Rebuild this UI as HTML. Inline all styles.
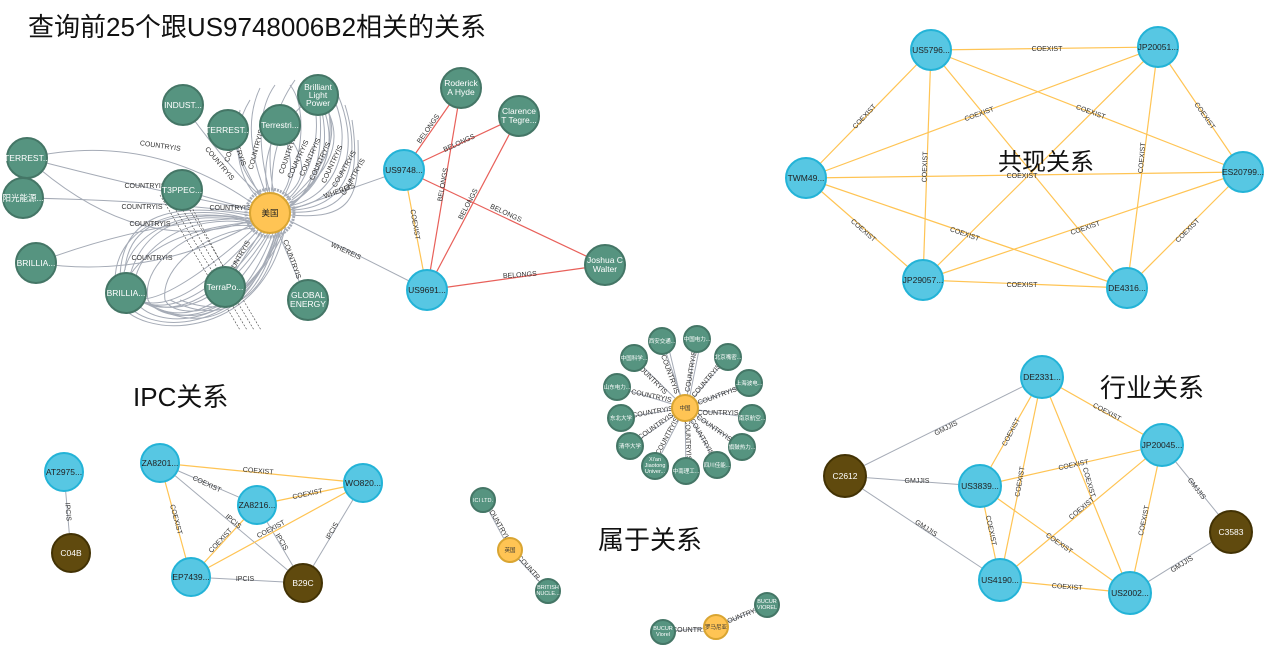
<!DOCTYPE html>
<html><head><meta charset="utf-8"><style>
html,body{margin:0;padding:0;background:#fff;}
svg{display:block;font-family:"Liberation Sans","Noto Sans CJK SC",sans-serif;}
.b{fill:#57C7E3;stroke:#23B3D7;stroke-width:2}
.g{fill:#569480;stroke:#447666;stroke-width:2}
.y{fill:#FFC454;stroke:#D9A532;stroke-width:2}
.k{fill:#604A0E;stroke:#423204;stroke-width:2}
.eo{stroke:#FFC454;stroke-width:1.2;fill:none}
.eg{stroke:#A5ABB6;stroke-width:1;fill:none}
.er{stroke:#E8605A;stroke-width:1.2;fill:none}
.l{font-size:7px;fill:#333;text-anchor:middle}
.nt{font-size:8.5px;fill:#222;text-anchor:middle}
.nw{font-size:8.5px;fill:#fff;text-anchor:middle}
.s{font-size:5.5px;fill:#fff;text-anchor:middle}
.h{font-size:26px;fill:#111}
</style></head><body>
<svg width="1274" height="649" viewBox="0 0 1274 649">
<text class="h" x="28" y="36">查询前25个跟US9748006B2相关的关系</text>
<text class="h" x="133" y="406">IPC关系</text>
<text class="h" x="598" y="549">属于关系</text>
<text class="h" x="1100" y="397">行业关系</text>

<!-- top-left cluster edges -->
<g class="eg">
<path d="M183,105 Q230,170 265,200"/><path d="M228,130 Q250,180 262,198"/>
<path d="M27,158 Q150,130 255,205"/><path d="M27,158 Q150,190 252,210"/>
<path d="M23,198 Q150,200 250,213"/><path d="M27,158 Q140,260 252,220"/>
<path d="M36,263 Q150,220 252,218"/><path d="M36,263 Q150,280 253,224"/>
<path d="M182,190 L252,210"/><path d="M308,302 L278,232"/>
<path d="M404,170 L290,210"/><path d="M427,290 L288,220"/>
<path d="M225,287 L262,230"/>
</g>
<g class="eg" stroke-width="0.8">
<path d="M318,95 Q350,160 290,205"/><path d="M318,95 Q340,170 288,208"/><path d="M318,95 Q330,180 286,210"/>
<path d="M318,95 Q360,150 292,200"/><path d="M318,95 Q355,140 292,198"/><path d="M318,95 Q270,120 272,193"/>
<path d="M280,125 Q300,170 282,194"/><path d="M280,125 Q260,160 268,193"/><path d="M280,125 Q320,170 286,196"/>
<path d="M250,100 Q220,150 262,195"/><path d="M260,88 Q240,130 266,194"/><path d="M275,85 Q250,120 270,193"/>
<path d="M240,110 Q230,170 258,198"/><path d="M295,80 Q260,130 274,193"/>
<path d="M288,206 C330,200 360,150 330,90"/><path d="M289,208 C335,205 365,160 338,95"/>
<path d="M290,210 C340,210 365,170 345,105"/><path d="M290,212 C345,215 362,185 352,120"/>
<path d="M289,215 C350,220 360,200 358,140"/><path d="M286,204 C320,195 345,140 320,80"/>
<path d="M284,202 C310,185 330,120 305,82"/><path d="M282,200 C300,170 310,110 290,85"/>
<path d="M126,293 Q140,200 252,222"/><path d="M126,293 Q150,320 255,228"/><path d="M126,293 Q170,330 258,230"/>
<path d="M126,293 Q180,335 262,232"/><path d="M126,293 Q190,340 265,232"/><path d="M126,293 Q200,340 268,233"/>
<path d="M120,280 Q120,190 252,216"/><path d="M125,270 Q130,200 252,219"/><path d="M130,275 Q160,230 254,222"/>
<path d="M140,300 Q210,345 270,233"/><path d="M150,305 Q230,345 273,233"/><path d="M160,310 Q240,345 276,232"/>
<path d="M170,300 Q250,340 278,230"/><path d="M180,300 Q260,330 280,229"/>
<path d="M253,222 C180,200 110,240 125,300 C140,335 250,340 276,232"/>
<path d="M253,224 C190,210 125,250 135,300 C150,330 245,335 279,231"/>
<path d="M254,226 C200,220 140,260 148,300 C160,325 240,330 282,230"/>
<path d="M252,220 C170,195 100,235 118,300 C135,340 260,345 285,228"/>
<path d="M255,228 C210,230 160,265 165,300 C175,320 245,322 286,227"/>
</g>
<g class="l" font-size="6.5">
<text x="160" y="148" transform="rotate(8 160 148)">COUNTRYIS</text>
<text x="145" y="188">COUNTRYIS</text>
<text x="142" y="209">COUNTRYIS</text>
<text x="150" y="226">COUNTRYIS</text>
<text x="152" y="260">COUNTRYIS</text>
<text x="218" y="165" transform="rotate(50 218 165)">COUNTRYIS</text>
<text x="235" y="147" transform="rotate(70 235 147)">COUNTRYIS</text>
<text x="235" y="143" transform="rotate(-72 235 143)">COUNTRYIS</text>
<text x="258" y="150" transform="rotate(-75 258 150)">COUNTRYIS</text>
<text x="290" y="155" transform="rotate(-70 290 155)">COUNTRYIS</text>
<text x="300" y="160" transform="rotate(-65 300 160)">COUNTRYIS</text>
<text x="312" y="158" transform="rotate(-65 312 158)">COUNTRYIS</text>
<text x="322" y="162" transform="rotate(-65 322 162)">COUNTRYIS</text>
<text x="334" y="165" transform="rotate(-65 334 165)">COUNTRYIS</text>
<text x="346" y="170" transform="rotate(-60 346 170)">COUNTRYIS</text>
<text x="355" y="178" transform="rotate(-60 355 178)">COUNTRYIS</text>
<text x="230" y="210">COUNTRYIS</text>
<text x="240" y="260" transform="rotate(-60 240 260)">COUNTRYIS</text>
<text x="290" y="260" transform="rotate(70 290 260)">COUNTRYIS</text>
<text x="340" y="193" transform="rotate(-20 340 193)">WHEREIS</text>
<text x="345" y="253" transform="rotate(25 345 253)">WHEREIS</text>
</g>
<g fill="none" stroke="#444" stroke-width="0.6">
<path d="M160,195 L240,330" stroke-dasharray="2 1.5"/><path d="M167,195 L247,330" stroke-dasharray="2 1.5"/>
<path d="M174,195 L254,330" stroke-dasharray="2 1.5"/><path d="M181,195 L261,330" stroke-dasharray="2 1.5"/>
<path d="M188,200 L230,280" stroke-dasharray="2 1.5"/>
</g>
<circle cx="270" cy="213" r="24" fill="none" stroke="#A5ABB6" stroke-width="3" stroke-dasharray="2 1"/>
<!-- belongs -->
<g class="er">
<line x1="404" y1="170" x2="461" y2="88"/><line x1="404" y1="170" x2="519" y2="116"/>
<line x1="404" y1="170" x2="605" y2="265"/><line x1="427" y1="290" x2="461" y2="88"/>
<line x1="427" y1="290" x2="519" y2="116"/><line x1="427" y1="290" x2="605" y2="265"/>
</g>
<line class="eo" x1="404" y1="170" x2="427" y2="290"/>
<g class="l">
<text x="430" y="130" transform="rotate(-55 430 130)">BELONGS</text>
<text x="460" y="145" transform="rotate(-25 460 145)">BELONGS</text>
<text x="505" y="215" transform="rotate(25 505 215)">BELONGS</text>
<text x="445" y="185" transform="rotate(-80 445 185)">BELONGS</text>
<text x="470" y="205" transform="rotate(-62 470 205)">BELONGS</text>
<text x="520" y="277" transform="rotate(-4 520 277)">BELONGS</text>
<text x="413" y="225" transform="rotate(80 413 225)">COEXIST</text>
</g>
<g>
<circle class="g" cx="183" cy="105" r="20"/><text class="nw" x="183" y="108">INDUST...</text>
<circle class="g" cx="228" cy="130" r="20"/><text class="nw" x="228" y="133">TERREST...</text>
<circle class="g" cx="280" cy="125" r="20"/><text class="nw" x="280" y="128">Terrestri...</text>
<circle class="g" cx="318" cy="95" r="20"/><text class="nw" x="318" y="90">Brilliant</text><text class="nw" x="318" y="98">Light</text><text class="nw" x="318" y="106">Power</text>
<circle class="g" cx="27" cy="158" r="20"/><text class="nw" x="27" y="161">TERREST...</text>
<circle class="g" cx="23" cy="198" r="20"/><text class="nw" x="23" y="201">阳光能源...</text>
<circle class="g" cx="182" cy="190" r="20"/><text class="nw" x="182" y="193">T3PPEC...</text>
<circle class="g" cx="36" cy="263" r="20"/><text class="nw" x="36" y="266">BRILLIA...</text>
<circle class="g" cx="126" cy="293" r="20"/><text class="nw" x="126" y="296">BRILLIA...</text>
<circle class="g" cx="225" cy="287" r="20"/><text class="nw" x="225" y="290">TerraPo...</text>
<circle class="g" cx="308" cy="300" r="20"/><text class="nw" x="308" y="298">GLOBAL</text><text class="nw" x="308" y="307">ENERGY</text>
<circle class="y" cx="270" cy="213" r="20"/><text class="nt" x="270" y="216">美国</text>
<circle class="b" cx="404" cy="170" r="20"/><text class="nt" x="404" y="173">US9748...</text>
<circle class="b" cx="427" cy="290" r="20"/><text class="nt" x="427" y="293">US9691...</text>
<circle class="g" cx="461" cy="88" r="20"/><text class="nw" x="461" y="86">Roderick</text><text class="nw" x="461" y="95">A Hyde</text>
<circle class="g" cx="519" cy="116" r="20"/><text class="nw" x="519" y="114">Clarence</text><text class="nw" x="519" y="123">T Tegre...</text>
<circle class="g" cx="605" cy="265" r="20"/><text class="nw" x="605" y="263">Joshua C</text><text class="nw" x="605" y="272">Walter</text>
</g>

<!-- 共现关系 -->
<g class="eo">
<line x1="1158" y1="47" x2="931" y2="50"/><line x1="806" y1="178" x2="931" y2="50"/>
<line x1="806" y1="178" x2="1158" y2="47"/><line x1="806" y1="178" x2="1243" y2="172"/>
<line x1="806" y1="178" x2="923" y2="280"/><line x1="806" y1="178" x2="1127" y2="288"/>
<line x1="923" y1="280" x2="931" y2="50"/><line x1="931" y1="50" x2="1127" y2="288"/>
<line x1="1243" y1="172" x2="931" y2="50"/><line x1="1158" y1="47" x2="923" y2="280"/>
<line x1="1158" y1="47" x2="1127" y2="288"/><line x1="1243" y1="172" x2="1158" y2="47"/>
<line x1="1243" y1="172" x2="923" y2="280"/><line x1="1243" y1="172" x2="1127" y2="288"/>
<line x1="923" y1="280" x2="1127" y2="288"/>
</g>
<g class="l">
<text x="1047" y="51">COEXIST</text>
<text x="866" y="118" transform="rotate(-47 866 118)">COEXIST</text>
<text x="980" y="116" transform="rotate(-20 980 116)">COEXIST</text>
<text x="1022" y="178">COEXIST</text>
<text x="862" y="232" transform="rotate(41 862 232)">COEXIST</text>
<text x="964" y="236" transform="rotate(19 964 236)">COEXIST</text>
<text x="927" y="167" transform="rotate(-88 927 167)">COEXIST</text>
<text x="1090" y="114" transform="rotate(20 1090 114)">COEXIST</text>
<text x="1144" y="158" transform="rotate(-85 1144 158)">COEXIST</text>
<text x="1203" y="117" transform="rotate(55 1203 117)">COEXIST</text>
<text x="1086" y="230" transform="rotate(-19 1086 230)">COEXIST</text>
<text x="1189" y="232" transform="rotate(-45 1189 232)">COEXIST</text>
<text x="1022" y="287">COEXIST</text>
</g>
<text x="998" y="170" font-size="24" fill="#111">共现关系</text>
<g>
<circle class="b" cx="931" cy="50" r="20"/><text class="nt" x="931" y="53">US5796...</text>
<circle class="b" cx="1158" cy="47" r="20"/><text class="nt" x="1158" y="50">JP20051...</text>
<circle class="b" cx="806" cy="178" r="20"/><text class="nt" x="806" y="181">TWM49...</text>
<circle class="b" cx="1243" cy="172" r="20"/><text class="nt" x="1243" y="175">ES20799...</text>
<circle class="b" cx="923" cy="280" r="20"/><text class="nt" x="923" y="283">JP29057...</text>
<circle class="b" cx="1127" cy="288" r="20"/><text class="nt" x="1127" y="291">DE4316...</text>
</g>

<!-- 中国 cluster -->
<g class="eg" stroke-width="0.7">
<line x1="685" y1="408" x2="662" y2="341"/><line x1="685" y1="408" x2="697" y2="339"/>
<line x1="685" y1="408" x2="728" y2="357"/><line x1="685" y1="408" x2="749" y2="383"/>
<line x1="685" y1="408" x2="752" y2="418"/><line x1="685" y1="408" x2="742" y2="447"/>
<line x1="685" y1="408" x2="717" y2="465"/><line x1="685" y1="408" x2="686" y2="471"/>
<line x1="685" y1="408" x2="655" y2="466"/><line x1="685" y1="408" x2="630" y2="446"/>
<line x1="685" y1="408" x2="621" y2="418"/><line x1="685" y1="408" x2="617" y2="387"/>
<line x1="685" y1="408" x2="634" y2="358"/><line x1="680" y1="395" x2="668" y2="345"/>
<line x1="690" y1="395" x2="700" y2="345"/>
<line x1="483" y1="500" x2="510" y2="550"/><line x1="510" y1="550" x2="548" y2="591"/>
<line x1="716" y1="627" x2="663" y2="632"/><line x1="716" y1="627" x2="767" y2="605"/>
</g>
<g class="l" font-size="4.5">
<text x="650" y="380" transform="rotate(45 650 380)">COUNTRYIS</text>
<text x="668" y="375" transform="rotate(70 668 375)">COUNTRYIS</text>
<text x="693" y="372" transform="rotate(-80 693 372)">COUNTRYIS</text>
<text x="708" y="382" transform="rotate(-50 708 382)">COUNTRYIS</text>
<text x="718" y="398" transform="rotate(-20 718 398)">COUNTRYIS</text>
<text x="718" y="415">COUNTRYIS</text>
<text x="713" y="430" transform="rotate(35 713 430)">COUNTRYIS</text>
<text x="700" y="438" transform="rotate(60 700 438)">COUNTRYIS</text>
<text x="686" y="440" transform="rotate(88 686 440)">COUNTRYIS</text>
<text x="669" y="437" transform="rotate(-62 669 437)">COUNTRYIS</text>
<text x="657" y="428" transform="rotate(-35 657 428)">COUNTRYIS</text>
<text x="653" y="414" transform="rotate(-10 653 414)">COUNTRYIS</text>
<text x="651" y="398" transform="rotate(12 651 398)">COUNTRYIS</text>
<text x="497" y="525" transform="rotate(60 497 525)">COUNTRYIS</text>
<text x="529" y="571" transform="rotate(48 529 571)">COUNTR...</text>
<text x="690" y="632">COUNTR...</text>
<text x="742" y="618" transform="rotate(-22 742 618)">COUNTRY...</text>
</g>
<g>
<circle class="y" cx="685" cy="408" r="13"/><text x="685" y="410" font-size="5.5" text-anchor="middle" fill="#333">中国</text>
<circle class="g" cx="662" cy="341" r="13"/><text class="s" x="662" y="343">西安交通...</text>
<circle class="g" cx="697" cy="339" r="13"/><text class="s" x="697" y="341">中国电力...</text>
<circle class="g" cx="728" cy="357" r="13"/><text class="s" x="728" y="359">北京嘴密...</text>
<circle class="g" cx="749" cy="383" r="13"/><text class="s" x="749" y="385">上海波电...</text>
<circle class="g" cx="752" cy="418" r="13"/><text class="s" x="752" y="420">南京航空...</text>
<circle class="g" cx="742" cy="447" r="13"/><text class="s" x="742" y="449">旗鼓热力...</text>
<circle class="g" cx="717" cy="465" r="13"/><text class="s" x="717" y="467">四川佳能...</text>
<circle class="g" cx="686" cy="471" r="13"/><text class="s" x="686" y="473">中南理工...</text>
<circle class="g" cx="655" cy="466" r="13"/><text class="s" x="655" y="461">Xi'an</text><text class="s" x="655" y="467">Jiaotong</text><text class="s" x="655" y="473">Univer...</text>
<circle class="g" cx="630" cy="446" r="13"/><text class="s" x="630" y="448">清华大学</text>
<circle class="g" cx="621" cy="418" r="13"/><text class="s" x="621" y="420">东北大学</text>
<circle class="g" cx="617" cy="387" r="13"/><text class="s" x="617" y="389">山东电力...</text>
<circle class="g" cx="634" cy="358" r="13"/><text class="s" x="634" y="360">中国科学...</text>
<circle class="g" cx="483" cy="500" r="12"/><text class="s" x="483" y="502">ICI LTD.</text>
<circle class="y" cx="510" cy="550" r="12"/><text x="510" y="552" font-size="5.5" text-anchor="middle" fill="#333">英国</text>
<circle class="g" cx="548" cy="591" r="12"/><text class="s" x="548" y="589">BRITISH</text><text class="s" x="548" y="595">NUCLE...</text>
<circle class="y" cx="716" cy="627" r="12"/><text x="716" y="629" font-size="5.5" text-anchor="middle" fill="#333">罗马尼亚</text>
<circle class="g" cx="663" cy="632" r="12"/><text class="s" x="663" y="630">BUCUR</text><text class="s" x="663" y="636">Viorel</text>
<circle class="g" cx="767" cy="605" r="12"/><text class="s" x="767" y="603">BUCUR</text><text class="s" x="767" y="609">VIOREL</text>
</g>

<!-- IPC -->
<g class="eg">
<line x1="64" y1="472" x2="71" y2="553"/><line x1="160" y1="463" x2="303" y2="583"/>
<line x1="257" y1="505" x2="303" y2="583"/><line x1="363" y1="483" x2="303" y2="583"/>
<line x1="191" y1="577" x2="303" y2="583"/><line x1="160" y1="463" x2="257" y2="505"/>
</g>
<g class="eo">
<line x1="160" y1="463" x2="363" y2="483"/><line x1="160" y1="463" x2="191" y2="577"/>
<line x1="363" y1="483" x2="257" y2="505"/><line x1="191" y1="577" x2="257" y2="505"/>
<line x1="191" y1="577" x2="363" y2="483"/>
</g>
<g class="l">
<text x="66" y="512" transform="rotate(85 66 512)">IPCIS</text>
<text x="258" y="473" transform="rotate(5 258 473)">COEXIST</text>
<text x="206" y="486" transform="rotate(25 206 486)">COEXIST</text>
<text x="174" y="520" transform="rotate(75 174 520)">COEXIST</text>
<text x="308" y="496" transform="rotate(-12 308 496)">COEXIST</text>
<text x="222" y="542" transform="rotate(-47 222 542)">COEXIST</text>
<text x="272" y="531" transform="rotate(-28 272 531)">COEXIST</text>
<text x="232" y="523" transform="rotate(40 232 523)">IPCIS</text>
<text x="280" y="543" transform="rotate(60 280 543)">IPCIS</text>
<text x="334" y="532" transform="rotate(-60 334 532)">IPCIS</text>
<text x="245" y="581">IPCIS</text>
</g>
<g>
<circle class="b" cx="64" cy="472" r="19"/><text class="nt" x="64" y="475">AT2975...</text>
<circle class="k" cx="71" cy="553" r="19"/><text class="nw" x="71" y="556">C04B</text>
<circle class="b" cx="160" cy="463" r="19"/><text class="nt" x="160" y="466">ZA8201...</text>
<circle class="b" cx="257" cy="505" r="19"/><text class="nt" x="257" y="508">ZA8216...</text>
<circle class="b" cx="363" cy="483" r="19"/><text class="nt" x="363" y="486">WO820...</text>
<circle class="b" cx="191" cy="577" r="19"/><text class="nt" x="191" y="580">EP7439...</text>
<circle class="k" cx="303" cy="583" r="19"/><text class="nw" x="303" y="586">B29C</text>
</g>

<!-- 行业 -->
<g class="eg">
<line x1="1042" y1="377" x2="843" y2="476"/><line x1="980" y1="486" x2="843" y2="476"/>
<line x1="1000" y1="580" x2="843" y2="476"/><line x1="1162" y1="445" x2="1231" y2="530"/>
<line x1="1130" y1="593" x2="1231" y2="530"/>
</g>
<g class="eo">
<line x1="1162" y1="445" x2="1042" y2="377"/><line x1="980" y1="486" x2="1042" y2="377"/>
<line x1="1000" y1="580" x2="1042" y2="377"/><line x1="1130" y1="593" x2="1042" y2="377"/>
<line x1="1162" y1="445" x2="980" y2="486"/><line x1="1162" y1="445" x2="1000" y2="580"/>
<line x1="1130" y1="593" x2="980" y2="486"/><line x1="1130" y1="593" x2="1162" y2="445"/>
<line x1="1000" y1="580" x2="980" y2="486"/><line x1="1130" y1="593" x2="1000" y2="580"/>
</g>
<g class="l">
<text x="947" y="430" transform="rotate(-27 947 430)">GMJJIS</text>
<text x="917" y="483">GMJJIS</text>
<text x="925" y="530" transform="rotate(33 925 530)">GMJJIS</text>
<text x="1195" y="490" transform="rotate(52 1195 490)">GMJJIS</text>
<text x="1183" y="566" transform="rotate(-32 1183 566)">GMJJIS</text>
<text x="1106" y="414" transform="rotate(28 1106 414)">COEXIST</text>
<text x="1013" y="433" transform="rotate(-62 1013 433)">COEXIST</text>
<text x="1022" y="482" transform="rotate(-80 1022 482)">COEXIST</text>
<text x="1087" y="483" transform="rotate(74 1087 483)">COEXIST</text>
<text x="1074" y="467" transform="rotate(-12 1074 467)">COEXIST</text>
<text x="1083" y="510" transform="rotate(-40 1083 510)">COEXIST</text>
<text x="1058" y="545" transform="rotate(35 1058 545)">COEXIST</text>
<text x="1146" y="521" transform="rotate(-78 1146 521)">COEXIST</text>
<text x="989" y="531" transform="rotate(78 989 531)">COEXIST</text>
<text x="1067" y="589" transform="rotate(4 1067 589)">COEXIST</text>
</g>
<g>
<circle class="b" cx="1042" cy="377" r="21"/><text class="nt" x="1042" y="380">DE2331...</text>
<circle class="b" cx="1162" cy="445" r="21"/><text class="nt" x="1162" y="448">JP20045...</text>
<circle class="k" cx="845" cy="476" r="21"/><text class="nw" x="845" y="479">C2612</text>
<circle class="b" cx="980" cy="486" r="21"/><text class="nt" x="980" y="489">US3839...</text>
<circle class="k" cx="1231" cy="532" r="21"/><text class="nw" x="1231" y="535">C3583</text>
<circle class="b" cx="1000" cy="580" r="21"/><text class="nt" x="1000" y="583">US4190...</text>
<circle class="b" cx="1130" cy="593" r="21"/><text class="nt" x="1130" y="596">US2002...</text>
</g>
</svg>
</body></html>
